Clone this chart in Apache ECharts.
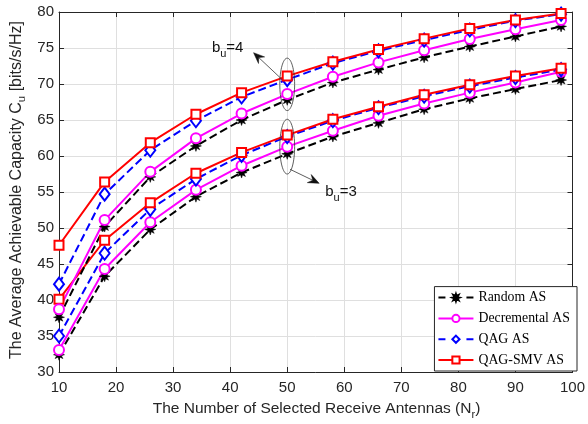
<!DOCTYPE html>
<html><head><meta charset="utf-8">
<script src="https://cdn.jsdelivr.net/npm/echarts@6/dist/echarts.min.js"></script>
<style>html,body{margin:0;padding:0;background:#fff}#c{width:588px;height:424px}</style>
</head><body><div id="c"></div>
<script>
// Number of selected receive antennas N_r
const nr = [10, 18, 26, 34, 42, 50, 58, 66, 74, 82, 90, 98];
// b_u = 4
const random4 = [37.6, 50.2, 57.1, 61.4, 65.0, 67.8, 70.2, 72.0, 73.7, 75.2, 76.6, 78.0];
const decr4   = [38.7, 51.1, 57.8, 62.45, 65.9, 68.6, 71.0, 73.0, 74.7, 76.25, 77.6, 78.9];
const qag4    = [42.2, 54.7, 60.8, 64.9, 68.2, 70.6, 72.9, 74.6, 76.1, 77.5, 78.8, 79.7];
const smv4    = [47.6, 56.4, 61.85, 65.8, 68.8, 71.1, 73.1, 74.8, 76.3, 77.7, 78.9, 79.8];
// b_u = 3
const random3 = [32.4, 43.3, 49.8, 54.35, 57.7, 60.3, 62.7, 64.6, 66.5, 68.0, 69.3, 70.55];
const decr3   = [33.05, 44.3, 50.8, 55.3, 58.65, 61.3, 63.5, 65.6, 67.3, 68.8, 70.2, 71.7];
const qag3    = [35.0, 46.5, 52.6, 56.8, 60.1, 62.7, 64.9, 66.7, 68.3, 69.7, 70.9, 72.0];
const smv3    = [40.1, 48.3, 53.5, 57.6, 60.5, 62.9, 65.1, 66.85, 68.5, 69.9, 71.1, 72.2];

const legendNames = ['Random AS', 'Decremental AS', 'QAG AS', 'QAG-SMV AS'];
const xTitle = 'The Number of Selected Receive Antennas (N';
const xTitleSub = 'r';
const yTitle = 'The Average Achievable Capacity C';
const yTitleSub = 'u';
const yTitleTail = ' [bits/s/Hz]';

const SANS = '"Liberation Sans", Arial, Helvetica, sans-serif';
const SERIF = '"Liberation Serif", "Times New Roman", serif';
const STAR = 'path://M100 50 L72 59 L85.4 85.4 L59 72 L50 100 L41 72 L14.6 85.4 L28 59 L0 50 L28 41 L14.6 14.6 L41 28 L50 0 L59 28 L85.4 14.6 L72 41 Z';

const styleMap = {
  'Random AS':      {color: '#000000', symbol: STAR, size: 11, type: [8, 4], legendType: [7, 21]},
  'Decremental AS': {color: '#ff00ff', symbol: 'emptyCircle', size: 10, type: 'solid', legendType: 'solid'},
  'QAG AS':         {color: '#0000ff', symbol: 'emptyDiamond', size: [10, 13], type: [8, 4], legendType: [7, 21]},
  'QAG-SMV AS':     {color: '#ff0000', symbol: 'emptyRect', size: 9, type: 'solid', legendType: 'solid'}
};

function mk(name, vals) {
  const s = styleMap[name];
  return {
    name, type: 'line',
    data: nr.map((x, i) => [x, vals[i]]),
    symbol: s.symbol, symbolSize: s.size, symbolKeepAspect: true,
    showAllSymbol: true,
    lineStyle: {color: s.color, width: 2, type: s.type},
    itemStyle: {color: s.color, borderColor: s.color, borderWidth: s.symbol === STAR ? 0.5 : 1.6},
    emphasis: {disabled: true},
    animation: false
  };
}

const series = [
  mk('Random AS', random3), mk('Decremental AS', decr3), mk('QAG AS', qag3), mk('QAG-SMV AS', smv3),
  mk('Random AS', random4), mk('Decremental AS', decr4), mk('QAG AS', qag4), mk('QAG-SMV AS', smv4)
];

const AX = '#262626';
const GRID = '#dfdfdf';
function axisCommon(min, max, interval, position, labels) {
  return {
    type: 'value', min, max, interval, position,
    axisLine: {show: true, onZero: false, lineStyle: {color: AX, width: 1}},
    axisTick: {show: true, inside: true, length: 5, lineStyle: {color: AX, width: 1}},
    axisLabel: {show: labels, color: AX, fontFamily: SANS, fontSize: 15, margin: position === 'bottom' ? 8 : 5},
    splitLine: {show: labels, lineStyle: {color: GRID, width: 1}}
  };
}

const chart = echarts.init(document.getElementById('c'), null, {renderer: 'canvas'});
chart.setOption({
  animation: false,
  backgroundColor: '#ffffff',
  grid: {left: 59, right: 12, top: 12, bottom: 52, containLabel: false},
  xAxis: [axisCommon(10, 100, 10, 'bottom', true), axisCommon(10, 100, 10, 'top', false)],
  yAxis: [axisCommon(30, 80, 5, 'left', true), axisCommon(30, 80, 5, 'right', false)],
  legend: {
    data: legendNames.map(n => ({name: n, lineStyle: {type: styleMap[n].legendType, width: 2}})),
    orient: 'vertical', right: 11, bottom: 53,
    backgroundColor: '#ffffff', borderColor: AX, borderWidth: 1, borderRadius: 0,
    padding: [4, 7, 4, 3], itemGap: 6.8, itemWidth: 35, itemHeight: 9,
    textStyle: {fontFamily: SERIF, fontSize: 13.8, lineHeight: 14, color: '#000'},
    selectedMode: false
  },
  series
});

// Annotations (positions given in data units, converted through the axes)
const ellipses = [
  {x: 50, y: 69.95, rx: 1.3, ry: 3.64},
  {x: 50, y: 61.3, rx: 1.3, ry: 3.8}
];
const arrows = [
  {from: [49.0, 70.7], to: [44.1, 74.35]},
  {from: [50.5, 58.15], to: [55.6, 56.2]}
];
const labels = [
  {x: 36.8, y: 75.0, text: '4'},
  {x: 56.66, y: 55.0, text: '3'}
];
const px = (p) => chart.convertToPixel({xAxisIndex: 0, yAxisIndex: 0}, p);
const graphics = [];
ellipses.forEach(e => {
  const c = px([e.x, e.y]);
  const r = px([e.x + e.rx, e.y + e.ry]);
  graphics.push({type: 'ellipse', z: 100, silent: true,
    shape: {cx: c[0], cy: c[1], rx: Math.abs(r[0] - c[0]), ry: Math.abs(r[1] - c[1])},
    style: {fill: 'none', stroke: '#333333', lineWidth: 0.8}});
});
arrows.forEach(a => {
  const s = px(a.from), t = px(a.to);
  const dx = t[0] - s[0], dy = t[1] - s[1], L = Math.hypot(dx, dy);
  const ux = dx / L, uy = dy / L, vx = -uy, vy = ux;
  const hl = 11, hw = 4.5;
  const bx = t[0] - ux * hl, by = t[1] - uy * hl;
  const nx = t[0] - ux * hl * 0.65, ny = t[1] - uy * hl * 0.65;
  graphics.push({type: 'line', z: 100, silent: true,
    shape: {x1: s[0], y1: s[1], x2: nx, y2: ny},
    style: {stroke: '#333333', lineWidth: 0.8}});
  graphics.push({type: 'polygon', z: 100, silent: true,
    shape: {points: [[t[0], t[1]], [bx + vx * hw, by + vy * hw], [nx, ny], [bx - vx * hw, by - vy * hw]]},
    style: {fill: '#111111', stroke: '#111111', lineWidth: 0.5}});
});
labels.forEach(l => {
  const p = px([l.x, l.y]);
  graphics.push({type: 'text', z: 100, silent: true, x: p[0], y: p[1],
    style: {text: '{a|b}{s|u}{a|=' + l.text + '}', align: 'left', verticalAlign: 'middle',
      rich: {a: {fontSize: 15, fontFamily: SANS, fill: '#111', lineHeight: 22},
             s: {fontSize: 11, fontFamily: SANS, fill: '#111', lineHeight: 12, verticalAlign: 'bottom'}}}});
});
// Axis titles
const gl = 59, gr = 576, gt = 12, gb = 372;
graphics.push({type: 'text', silent: true, x: (gl + gr) / 2 - 1, y: gb + 37,
  style: {text: '{a|' + xTitle + '}{s|' + xTitleSub + '}{a|)}', align: 'center', verticalAlign: 'middle',
    rich: {a: {fontSize: 15.5, fontFamily: SANS, fill: '#262626', lineHeight: 22},
           s: {fontSize: 11, fontFamily: SANS, fill: '#262626', lineHeight: 12, verticalAlign: 'bottom'}}}});
graphics.push({type: 'text', silent: true, x: 17, y: 190, rotation: Math.PI / 2,
  style: {text: '{a|' + yTitle + '}{s|' + yTitleSub + '}{a|' + yTitleTail + '}', align: 'center', verticalAlign: 'middle',
    rich: {a: {fontSize: 16, fontFamily: SANS, fill: '#262626', lineHeight: 22},
           s: {fontSize: 11.5, fontFamily: SANS, fill: '#262626', lineHeight: 12, verticalAlign: 'bottom'}}}});
chart.setOption({graphic: graphics});
</script>
</body></html>
